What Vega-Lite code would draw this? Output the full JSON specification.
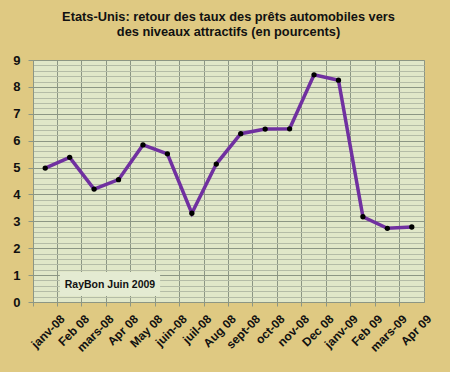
{
  "$schema": "https://vega.github.io/schema/vega-lite/v6.json",
  "width": 391,
  "height": 242,
  "autosize": {"type": "none"},
  "padding": {"left": 33, "top": 60, "right": 26, "bottom": 70},
  "background": "#dfc982",
  "title": {
    "text": ["Etats-Unis: retour des taux des prêts automobiles vers", "des niveaux attractifs (en pourcents)"],
    "font": "Liberation Sans",
    "fontSize": 12.8,
    "fontWeight": "bold",
    "color": "#111111",
    "anchor": "middle",
    "offset": 15,
    "lineHeight": 15
  },
  "config": {
    "view": {"fill": "#e0e7c8", "stroke": "#8c9684", "strokeWidth": 1}
  },
  "layer": [
    {
      "data": {"values": [
        {"m": "janv-08", "v": 4.98},
        {"m": "Feb 08", "v": 5.38},
        {"m": "mars-08", "v": 4.2},
        {"m": "Apr 08", "v": 4.55},
        {"m": "May 08", "v": 5.84},
        {"m": "juin-08", "v": 5.51},
        {"m": "juil-08", "v": 3.3},
        {"m": "Aug 08", "v": 5.13},
        {"m": "sept-08", "v": 6.26},
        {"m": "oct-08", "v": 6.43},
        {"m": "nov-08", "v": 6.44},
        {"m": "Dec 08", "v": 8.45},
        {"m": "janv-09", "v": 8.25},
        {"m": "Feb 09", "v": 3.17},
        {"m": "mars-09", "v": 2.74},
        {"m": "Apr 09", "v": 2.79}
      ]},
      "encoding": {
        "x": {
          "field": "m", "type": "ordinal", "sort": null,
          "scale": {"type": "band", "paddingInner": 0, "paddingOuter": 0},
          "axis": {
            "title": null,
            "bandPosition": 0,
            "labelOffset": 14,
            "labelAngle": -45,
            "labelAlign": "right",
            "labelBaseline": "top",
            "labelPadding": 7,
            "labelFont": "Liberation Sans",
            "labelFontSize": 12,
            "labelFontWeight": "bold",
            "labelColor": "#111111",
            "grid": true,
            "gridColor": "#8c9684",
            "gridWidth": 1,
            "ticks": true,
            "tickSize": 4,
            "tickColor": "#8c9684",
            "domain": true,
            "domainColor": "#8c9684"
          }
        },
        "y": {
          "field": "v", "type": "quantitative",
          "scale": {"domain": [0, 9], "nice": false},
          "axis": {
            "title": null,
            "values": [0,0.2,0.4,0.6,0.8,1,1.2,1.4,1.6,1.8,2,2.2,2.4,2.6,2.8,3,3.2,3.4,3.6,3.8,4,4.2,4.4,4.6,4.8,5,5.2,5.4,5.6,5.8,6,6.2,6.4,6.6,6.8,7,7.2,7.4,7.6,7.8,8,8.2,8.4,8.6,8.8,9],
            "tickCount": 100,
            "labelExpr": "abs(datum.value - round(datum.value)) < 0.01 ? format(datum.value, 'd') : ''",
            "labelOverlap": false,
            "labelBound": false,
            "labelFont": "Liberation Sans",
            "labelFontSize": 13,
            "labelFontWeight": "bold",
            "labelColor": "#111111",
            "labelPadding": 8,
            "grid": true,
            "gridColor": {"condition": {"test": "abs(datum.value - round(datum.value)) < 0.01", "value": "#8c9684"}, "value": "#b4bca6"},
            "gridWidth": 1,
            "ticks": true,
            "tickSize": 5,
            "tickColor": "#8c9684",
            "tickOpacity": {"condition": {"test": "abs(datum.value - round(datum.value)) < 0.01", "value": 1}, "value": 0},
            "domain": true,
            "domainColor": "#8c9684"
          }
        }
      },
      "layer": [
        {"mark": {"type": "line", "color": "#7030a0", "strokeWidth": 3.5}},
        {"mark": {"type": "point", "filled": true, "color": "#000000", "size": 28, "opacity": 1}}
      ]
    },
    {
      "data": {"values": [
        {"label": "RayBon Juin 2009", "x1": 1.1, "x2": 5.2, "y1": 0.22, "y2": 1.12, "xc": 3.15, "yc": 0.63}
      ]},
      "layer": [
        {
          "mark": {"type": "rect", "fill": "#e4ebd2", "stroke": null},
          "encoding": {
            "x": {"field": "x1", "type": "quantitative", "scale": {"domain": [0, 16]}, "axis": null},
            "x2": {"field": "x2"},
            "y": {"field": "y1", "type": "quantitative"},
            "y2": {"field": "y2"}
          }
        },
        {
          "mark": {"type": "text", "font": "Liberation Sans", "fontSize": 10.5, "fontWeight": "bold", "color": "#111111", "align": "center", "baseline": "middle"},
          "encoding": {
            "x": {"field": "xc", "type": "quantitative", "scale": {"domain": [0, 16]}, "axis": null},
            "y": {"field": "yc", "type": "quantitative"},
            "text": {"field": "label"}
          }
        }
      ]
    }
  ],
  "resolve": {"scale": {"x": "independent"}, "axis": {"x": "independent"}}
}
